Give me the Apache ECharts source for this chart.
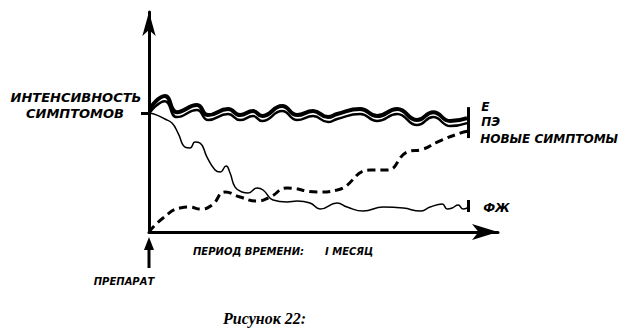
<!DOCTYPE html>
<html>
<head>
<meta charset="utf-8">
<script src="https://cdn.jsdelivr.net/npm/echarts@6/dist/echarts.min.js"></script>
<style>
  html, body { margin: 0; padding: 0; background: #fff; }
  #chart { width: 628px; height: 334px; }
</style>
</head>
<body>
<div id="chart"></div>
<script>
// Time runs in days from the start of the drug (30 days = 1 month);
// intensity is in arbitrary units, 10 being the starting level of symptoms.

// Е: main symptoms, thick wavy line
const eDays   = [0.1, 1.5, 2.63, 4.51, 5.55, 7.43, 8.56, 9.78, 10.63, 12.51, 13.92, 15.42, 16.83, 17.68, 19.84, 21.44, 23.32, 25.2, 26.71, 28.31, 29.9];
const eLevels = [10.42, 11.43, 10.08, 10.67, 9.83, 10.34, 9.83, 10.17, 9.75, 10.59, 9.83, 10.17, 9.66, 9.92, 10.34, 9.75, 10.34, 9.41, 10.08, 9.33, 9.58];

// ПЭ: runs just under Е
const peDays   = [0.1, 1.5, 2.63, 4.51, 5.55, 7.43, 8.56, 9.78, 10.63, 12.51, 13.92, 15.42, 16.83, 17.68, 19.84, 21.44, 23.32, 25.2, 26.71, 28.31, 29.9];
const peLevels = [10.08, 11.0, 9.66, 10.25, 9.41, 9.92, 9.41, 9.75, 9.33, 10.17, 9.41, 9.75, 9.24, 9.5, 9.92, 9.33, 9.92, 8.99, 9.66, 8.91, 9.16];

// ФЖ: thin line falling from the starting level
const fzDays   = [0, 0.75, 1.5, 2.16, 2.73, 3.39, 3.86, 4.33, 4.8, 5.45, 6.21, 6.68, 7.24, 7.62, 8.09, 8.75, 9.31, 10.16, 10.72, 11.66, 12.98, 13.92, 15.14, 16.08, 17.68, 18.62, 20.13, 22.01, 23.89, 25.49, 26.43, 27.56, 28.03, 28.5, 29.06, 29.53, 29.9];
const fzLevels = [10.0, 9.83, 9.5, 9.16, 8.32, 7.14, 7.06, 7.56, 7.48, 6.3, 5.21, 5.04, 5.55, 4.96, 3.78, 3.36, 3.28, 3.7, 3.53, 2.69, 2.52, 2.6, 2.44, 1.93, 2.44, 2.1, 1.76, 2.1, 2.02, 1.76, 2.1, 2.35, 1.93, 2.02, 2.27, 1.93, 2.02];

// Новые симптомы: dashed line rising from zero
const newDays   = [0, 1.32, 2.92, 3.86, 4.8, 5.92, 7.15, 8.56, 10.16, 11.38, 12.98, 15.8, 17.68, 20.78, 22.38, 24.26, 25.77, 27.09, 29.25, 30];
const newLevels = [0, 1.18, 2.02, 2.1, 1.93, 2.27, 3.36, 2.94, 2.6, 2.94, 3.7, 3.36, 3.53, 5.21, 5.21, 6.72, 6.97, 7.56, 8.32, 8.49];

const seriesNames = ['Е', 'ПЭ', 'НОВЫЕ СИМПТОМЫ', 'ФЖ'];
const yTitleLines = ['ИНТЕНСИВНОСТЬ', 'СИМПТОМОВ'];
const xTitle = 'ПЕРИОД ВРЕМЕНИ:';
const monthLabel = 'I МЕСЯЦ';
const startLabel = 'ПРЕПАРАТ';
const figureCaption = 'Рисунок 22:';

const monthDay = 30;      // position of the one-month mark
const startLevel = 10;    // starting intensity tick

const zip = (xs, ys) => xs.map((x, i) => [x, ys[i]]);

const labelFont = {
  fontFamily: 'DejaVu Sans',
  fontWeight: 'bold',
  fontStyle: 'italic',
  fontSize: 12,
  color: '#000'
};

const chart = echarts.init(document.getElementById('chart'), null, { renderer: 'svg' });

const endBar = (top, bottom) => [{ coord: [monthDay, top] }, { coord: [monthDay, bottom] }];
const markBars = (pairs) => ({
  silent: true,
  symbol: ['none', 'none'],
  label: { show: false },
  lineStyle: { color: '#000', width: 3, type: 'solid' },
  emphasis: { disabled: true },
  data: pairs
});

chart.setOption({
  animation: false,
  backgroundColor: '#fff',
  title: {
    text: figureCaption,
    left: 223,
    top: 310,
    padding: 0,
    textStyle: {
      fontFamily: 'Liberation Serif',
      fontWeight: 'bold',
      fontStyle: 'italic',
      fontSize: 16,
      color: '#000'
    }
  },
  grid: { left: 149, top: 12, width: 349, height: 220 },
  xAxis: {
    type: 'value',
    min: 0,
    max: 32.8,
    splitLine: { show: false },
    axisTick: { show: false },
    axisLabel: { show: false },
    axisLine: {
      onZero: false,
      symbol: ['none', 'arrow'],
      symbolSize: [12, 26],
      lineStyle: { color: '#000', width: 3 }
    }
  },
  yAxis: {
    type: 'value',
    min: 0,
    max: 18.5,
    splitLine: { show: false },
    axisLabel: { show: false },
    axisTick: {
      show: true,
      customValues: [startLevel],
      length: 8,
      lineStyle: { color: '#000', width: 3 }
    },
    axisLine: {
      onZero: false,
      symbol: ['none', 'arrow'],
      symbolSize: [10, 24],
      lineStyle: { color: '#000', width: 3 }
    }
  },
  series: [
    {
      name: seriesNames[0],
      type: 'line',
      data: zip(eDays, eLevels),
      smooth: 0.5,
      showSymbol: false,
      silent: true,
      lineStyle: { color: '#000', width: 4 },
      endLabel: { show: true, formatter: seriesNames[0], offset: [6, -11], ...labelFont },
      markLine: markBars([endBar(10.5, 7.9), endBar(2.69, 1.68), endBar(-0.6, 0.65)])
    },
    {
      name: seriesNames[1],
      type: 'line',
      data: zip(peDays, peLevels),
      smooth: 0.5,
      showSymbol: false,
      silent: true,
      lineStyle: { color: '#000', width: 2.5 },
      endLabel: { show: true, formatter: seriesNames[1], offset: [6, -1], ...labelFont }
    },
    {
      name: seriesNames[2],
      type: 'line',
      data: zip(newDays, newLevels),
      smooth: 0.5,
      showSymbol: false,
      silent: true,
      lineStyle: { color: '#000', width: 3, type: [8, 5] },
      endLabel: { show: true, formatter: seriesNames[2], offset: [4, 8], ...labelFont }
    },
    {
      name: seriesNames[3],
      type: 'line',
      data: zip(fzDays, fzLevels),
      smooth: 0.5,
      showSymbol: false,
      silent: true,
      lineStyle: { color: '#000', width: 1.5 },
      endLabel: { show: true, formatter: seriesNames[3], offset: [8, 0], ...labelFont }
    }
  ]
});

// Annotations placed relative to the axes
const origin = chart.convertToPixel({ gridIndex: 0 }, [0, 0]);
const tick = chart.convertToPixel({ gridIndex: 0 }, [0, startLevel]);
const ox = origin[0], oy = origin[1];

const smallFont = {
  fontFamily: 'DejaVu Sans',
  fontWeight: 'bold',
  fontStyle: 'italic',
  fontSize: 10,
  fill: '#000'
};
const bigFont = Object.assign({}, smallFont, { fontSize: 13 });

chart.setOption({
  graphic: [
    // arrow marking the moment the drug is given
    { type: 'line', shape: { x1: ox, y1: oy + 14, x2: ox, y2: oy + 36 }, style: { stroke: '#000', lineWidth: 3 } },
    { type: 'polygon', shape: { points: [[ox, oy + 5], [ox - 5, oy + 18], [ox + 5, oy + 18]] }, style: { fill: '#000' } },
    { type: 'text', x: ox - 73, y: tick[1] - 16, style: Object.assign({ text: yTitleLines[0], align: 'center', verticalAlign: 'middle' }, bigFont) },
    { type: 'text', x: ox - 74, y: tick[1], style: Object.assign({ text: yTitleLines[1], align: 'center', verticalAlign: 'middle' }, bigFont) },
    { type: 'text', x: ox + 44, y: oy + 19, style: Object.assign({ text: xTitle, align: 'left', verticalAlign: 'middle' }, smallFont) },
    { type: 'text', x: ox + 176, y: oy + 19, style: Object.assign({ text: monthLabel, align: 'left', verticalAlign: 'middle' }, smallFont) },
    { type: 'text', x: ox - 25, y: oy + 49, style: Object.assign({ text: startLabel, align: 'center', verticalAlign: 'middle' }, smallFont) }
  ]
});
</script>
</body>
</html>
